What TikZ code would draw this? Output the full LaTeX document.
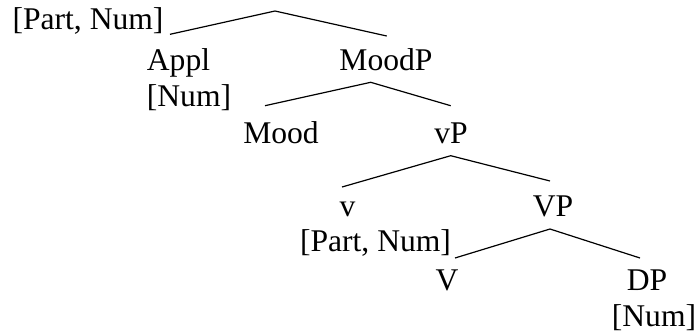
\documentclass[tikz,border=0pt]{standalone}
\usepackage{fontspec}
\setmainfont{Liberation Serif}
\usepackage{tikz}

\tikzset{lbl/.style={anchor=base,inner sep=0pt,font=\fontsize{31.6}{36}\selectfont}}

\begin{document}
\begin{tikzpicture}[x=1pt,y=-1pt,line width=1.2pt]
					\useasboundingbox (0,0) rectangle (696,333);
					
					\path (88,29.5) node[lbl] (rootf) {[Part, Num]};
					\path (178.5,70) node[lbl] (appl) {Appl};
					\path (189,106) node[lbl] (applf) {[Num]};
					\path (386,70) node[lbl] (moodp) {MoodP};
					\path (281,143) node[lbl] (mood) {Mood};
					\path (451,143) node[lbl] (vp) {vP};
					\path (347.5,216.5) node[lbl] (v) {v};
					\path (375.5,251.5) node[lbl] (vf) {[Part, Num]};
					\path (553,216.5) node[lbl] (bigvp) {VP};
					\path (447,290.5) node[lbl] (bigv) {V};
					\path (647,290.5) node[lbl] (dp) {DP};
					\path (654,326) node[lbl] (dpf) {[Num]};
					
					\coordinate (top) at (275,11);
					\coordinate (topl) at (170,34.3);
					\coordinate (topr) at (386.7,36);
					\coordinate (moodtop) at (370.7,82.3);
					\coordinate (moodl) at (265,105.7);
					\coordinate (moodr) at (450.7,105.7);
					\coordinate (vtop) at (450.7,155.7);
					\coordinate (vl) at (342,187);
					\coordinate (vr) at (550,181);
					\coordinate (bvtop) at (550,229);
					\coordinate (bvl) at (455,258);
					\coordinate (bvr) at (640,258);
					
					\draw (topl) -- (top) -- (topr);
					\draw (moodl) -- (moodtop) -- (moodr);
					\draw (vl) -- (vtop) -- (vr);
					\draw (bvl) -- (bvtop) -- (bvr);
					\end{tikzpicture}
\end{document}
